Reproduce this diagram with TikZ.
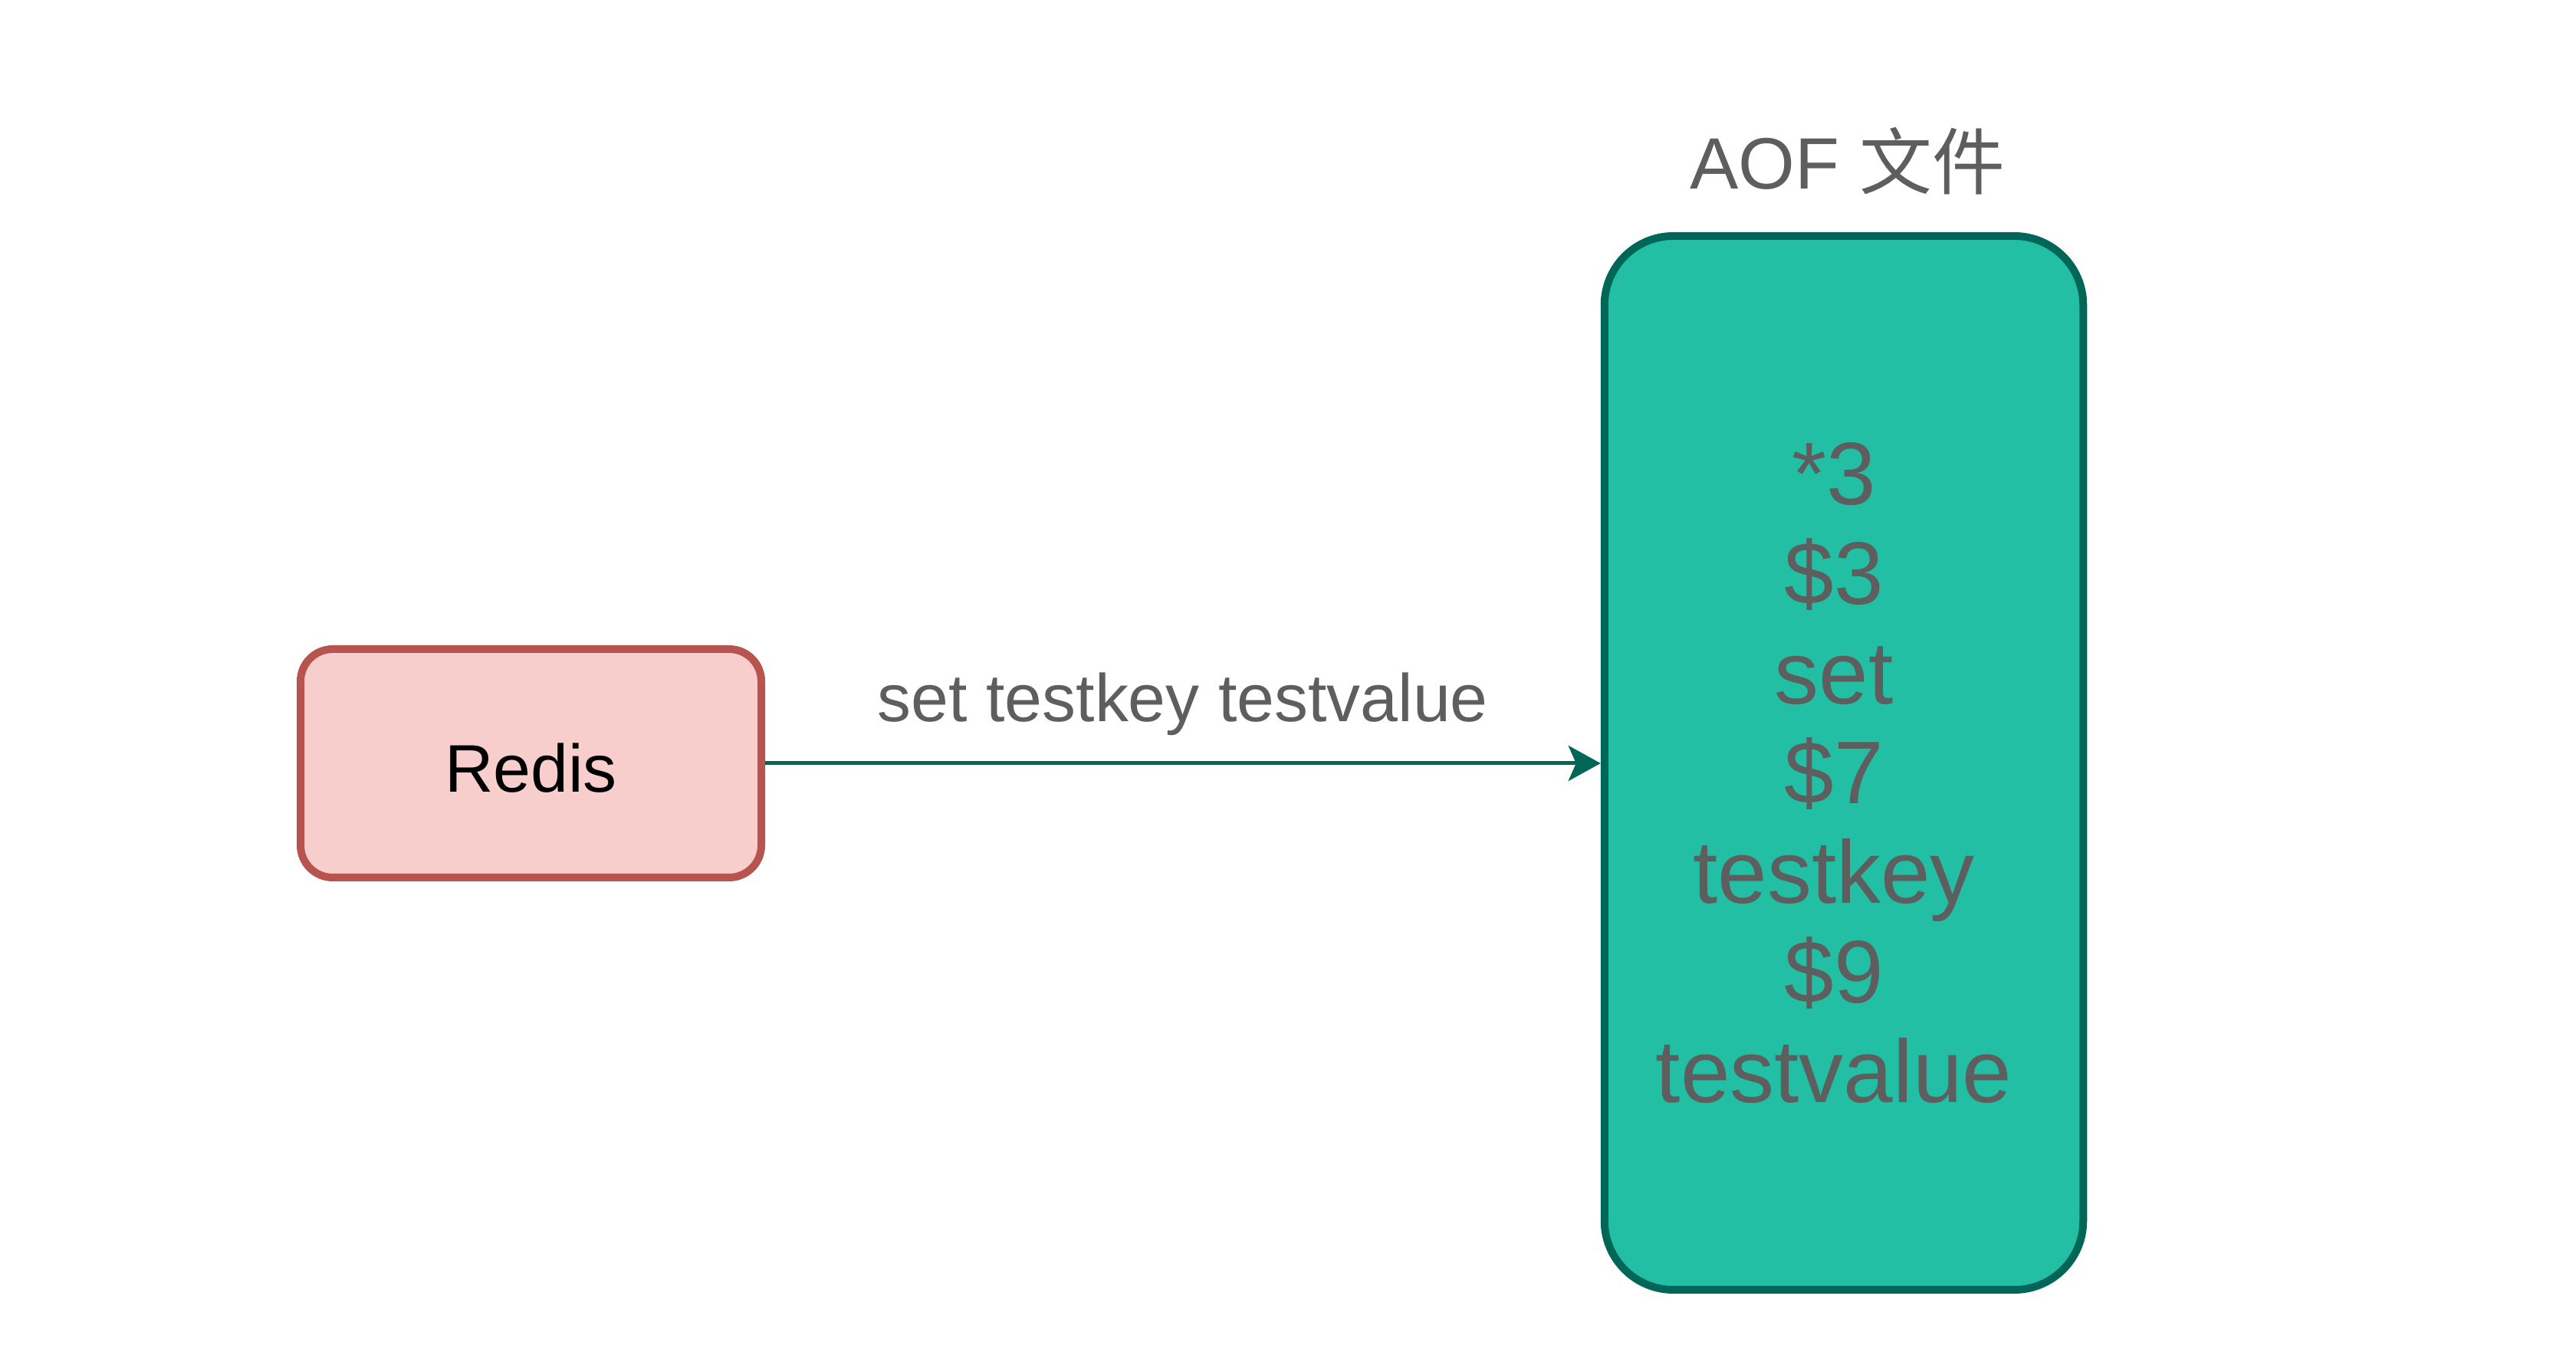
\documentclass[tikz,border=0pt]{standalone}
\usepackage{fontspec}
\setmainfont{Liberation Sans}
\newfontfamily\cjk{Noto Sans CJK SC}
\usetikzlibrary{arrows.meta}

\definecolor{redisfill}{HTML}{F8CECC}
\definecolor{redisline}{HTML}{B85450}
\definecolor{aoffill}{HTML}{22BFA5}
\definecolor{aofline}{HTML}{006658}
\definecolor{textgray}{HTML}{5E5E5E}

\begin{document}
\begin{tikzpicture}[
		redisbox/.style={draw=redisline, fill=redisfill, line width=0.1cm, rounded corners=0.42cm,
			minimum width=6.01cm, minimum height=2.98cm, text height=21.5pt,
			font=\fontsize{25}{30}\selectfont},
		aofbox/.style={draw=aofline, fill=aoffill, line width=0.1cm, rounded corners=0.9cm,
			minimum width=6.245cm, minimum height=13.75cm},
		aoflines/.style={align=center, text=textgray, font=\fontsize{33}{37}\selectfont},
		flow/.style={draw=aofline, line width=0.05cm,
			-{Stealth[length=0.42cm, width=0.46cm, inset=0.1cm]}}
	]
		\useasboundingbox (0,0) rectangle (33.6,17.85);

		\node[redisbox] (redis) at (6.925,7.89) {Redis};
		\node[aofbox] (aof) at (24.05,7.895) {};
		\node[aoflines, xshift=-0.13cm, yshift=-0.13cm] (aoftext) at (aof.center) {*3\\\$3\\set\\\$7\\testkey\\\$9\\testvalue};
		\node[anchor=base, text=textgray, font=\fontsize{27}{32}\selectfont] (aoftitle) at (24.1,15.38) {AOF {\cjk 文件}};

		%\draw (redis) -- (aof)
		\draw[flow] (redis.east) -- (redis.east -| aof.west)
			node[midway, anchor=base, yshift=0.54cm, text=textgray, font=\fontsize{25}{29}\selectfont] (cmd) {set testkey testvalue};
	\end{tikzpicture}
\end{document}
